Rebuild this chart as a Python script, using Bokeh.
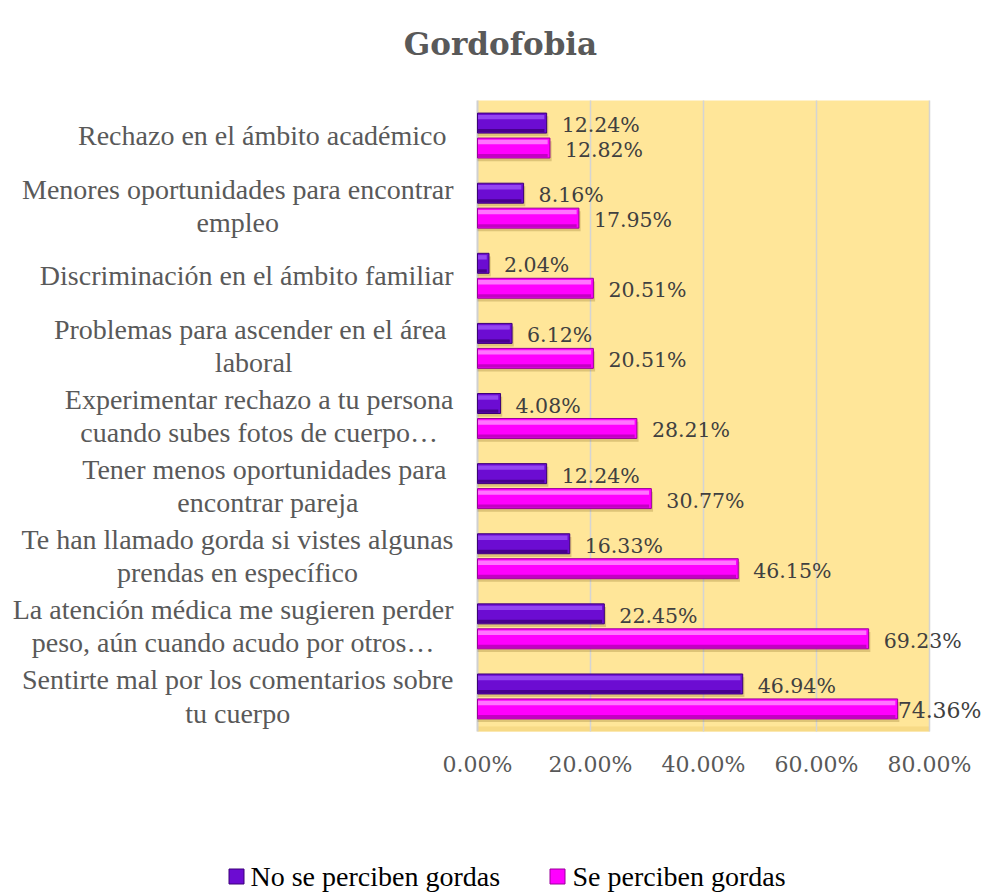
from bokeh.plotting import figure
from bokeh.models import ColumnDataSource, Range1d
from bokeh.core.properties import value
from bokeh.embed import file_html
from bokeh.resources import INLINE

# ---------------- data ----------------
categories = [
    "Rechazo en el ámbito académico ",
    "Menores oportunidades para encontrar\nempleo",
    "Discriminación en el ámbito familiar",
    "Problemas para ascender en el área \nlaboral",
    "Experimentar rechazo a tu persona\ncuando subes fotos de cuerpo…",
    "Tener menos oportunidades para \nencontrar pareja",
    "Te han llamado gorda si vistes algunas\nprendas en específico",
    "La atención médica me sugieren perder\npeso, aún cuando acudo por otros…",
    "Sentirte mal por los comentarios sobre\ntu cuerpo",
]
no_se_perciben = [0.1224, 0.0816, 0.0204, 0.0612, 0.0408, 0.1224, 0.1633, 0.2245, 0.4694]
se_perciben = [0.1282, 0.1795, 0.2051, 0.2051, 0.2821, 0.3077, 0.4615, 0.6923, 0.7436]
series_names = ["No se perciben gordas", "Se perciben gordas"]
x_ticks = [0.0, 0.2, 0.4, 0.6, 0.8]
title_text = "Gordofobia"

# ---------------- layout / styles ----------------
W, H = 990, 892
FL, FR, FT, FB = 477, 929, 100, 731          # plot-area edges in pixels
n = len(categories)
XMAX = x_ticks[-1]
UX = XMAX / (FR - FL)                         # data units per px (x)
UY = n / (FB - FT)                            # data units per px (y)

def px_x(px):
    return (px - FL) * UX

def px_y(py):
    return -0.5 + (py - FT) * UY

GRAY = "#595959"
LABEL_GRAY = "#404040"
BAR_H = 0.285
DY = 0.178
styles = [
    dict(base="#6C0CD2", light="#9446F2", dark="#48008E", edge="#3C0078"),
    dict(base="#FF00FF", light="#FF74FF", dark="#C400C4", edge="#9A009A"),
]

p = figure(width=W, height=H, output_backend="svg", toolbar_location=None,
           x_range=Range1d(px_x(0), px_x(W)), y_range=Range1d(px_y(H), px_y(0)),
           min_border=0)
p.xaxis.visible = False
p.yaxis.visible = False
p.xgrid.grid_line_color = None
p.ygrid.grid_line_color = None
p.outline_line_color = None
p.background_fill_color = "white"
p.border_fill_color = "white"

# plot area
p.quad(left=[0], right=[XMAX], top=[-0.5], bottom=[n - 0.5],
       fill_color="#FFE699", line_color=None)
p.quad(left=[0], right=[XMAX], top=[n - 0.5 - 5 * UY], bottom=[n - 0.5],
       fill_color="#F2D27A", fill_alpha=0.6, line_color=None)
p.segment(x0=x_ticks[1:], x1=x_ticks[1:], y0=[-0.5] * (len(x_ticks) - 1),
          y1=[n - 0.5] * (len(x_ticks) - 1), line_color="#D4D4D4", line_width=1.5)
p.segment(x0=[0], x1=[0], y0=[-0.5], y1=[n - 0.5], line_color="#D0D0D0", line_width=2)

# bars
for vals, st, sign in zip([no_se_perciben, se_perciben], styles, [-1, 1]):
    ys = [i + sign * DY for i in range(n)]
    src = ColumnDataSource(dict(
        y=ys,
        y_sh=[y + 0.045 for y in ys],
        y_top=[y - BAR_H * 0.30 for y in ys],
        y_bot=[y + BAR_H * 0.38 for y in ys],
        val=vals,
        val_sh=[v + 0.003 for v in vals],
        val_in=[max(v - 0.004, 0.001) for v in vals],
        label=["%.2f%%" % (v * 100) for v in vals],
        xoff=[0 if v > 0.74 else 15 for v in vals],
        fs=["22px" if v > 0.74 else "20.5px" for v in vals],
    ))
    p.hbar(y="y_sh", left=0, right="val_sh", height=BAR_H, source=src,
           fill_color="#6b4e00", fill_alpha=0.22, line_color=None)
    p.hbar(y="y", left=0, right="val", height=BAR_H, source=src,
           fill_color=st["base"], line_color=st["edge"], line_width=1)
    p.hbar(y="y_top", left=0.001, right="val_in", height=BAR_H * 0.22, source=src,
           fill_color=st["light"], line_color=None)
    p.hbar(y="y_bot", left=0.001, right="val_in", height=BAR_H * 0.16, source=src,
           fill_color=st["dark"], line_color=None)
    p.text(x="val", y="y", text="label", source=src, x_offset="xoff", y_offset=2,
           text_font=value("DejaVu Serif"), text_font_size="fs", text_color=LABEL_GRAY,
           text_baseline="middle", text_align="left")

# category labels (right-aligned block, centred lines)
p.text(x=[0] * n, y=list(range(n)), text=categories, x_offset=-24,
       anchor=value("center_right"), text_align="center", text_baseline="middle",
       text_font=value("Liberation Serif"), text_font_size="28px",
       text_color=GRAY, text_line_height=1.07)

# tick labels
p.text(x=x_ticks, y=[n - 0.5] * len(x_ticks), text=["%.2f%%" % (t * 100) for t in x_ticks],
       y_offset=33, text_align="center", text_baseline="middle",
       text_font=value("DejaVu Serif"), text_font_size="22px", text_color=GRAY)

# title
p.text(x=[px_x(500)], y=[px_y(43)], text=[title_text], text_align="center",
       text_baseline="alphabetic", text_font=value("DejaVu Serif"),
       text_font_style="bold", text_font_size="31px", text_color=GRAY)

# legend
leg_sq_x = [px_x(236), px_x(557)]
leg_tx_x = [px_x(250), px_x(572)]
leg_y = px_y(876)
p.rect(x=leg_sq_x, y=[leg_y] * 2, width=15, height=15, width_units="screen",
       height_units="screen", fill_color=[s["base"] for s in styles],
       line_color=[s["edge"] for s in styles], line_width=1)
p.text(x=leg_tx_x, y=[leg_y] * 2, text=series_names, text_align="left",
       text_baseline="middle", text_font=value("Liberation Serif"),
       text_font_size="28px", text_color="#000000")

open("out.html", "w").write(file_html(p, INLINE))
